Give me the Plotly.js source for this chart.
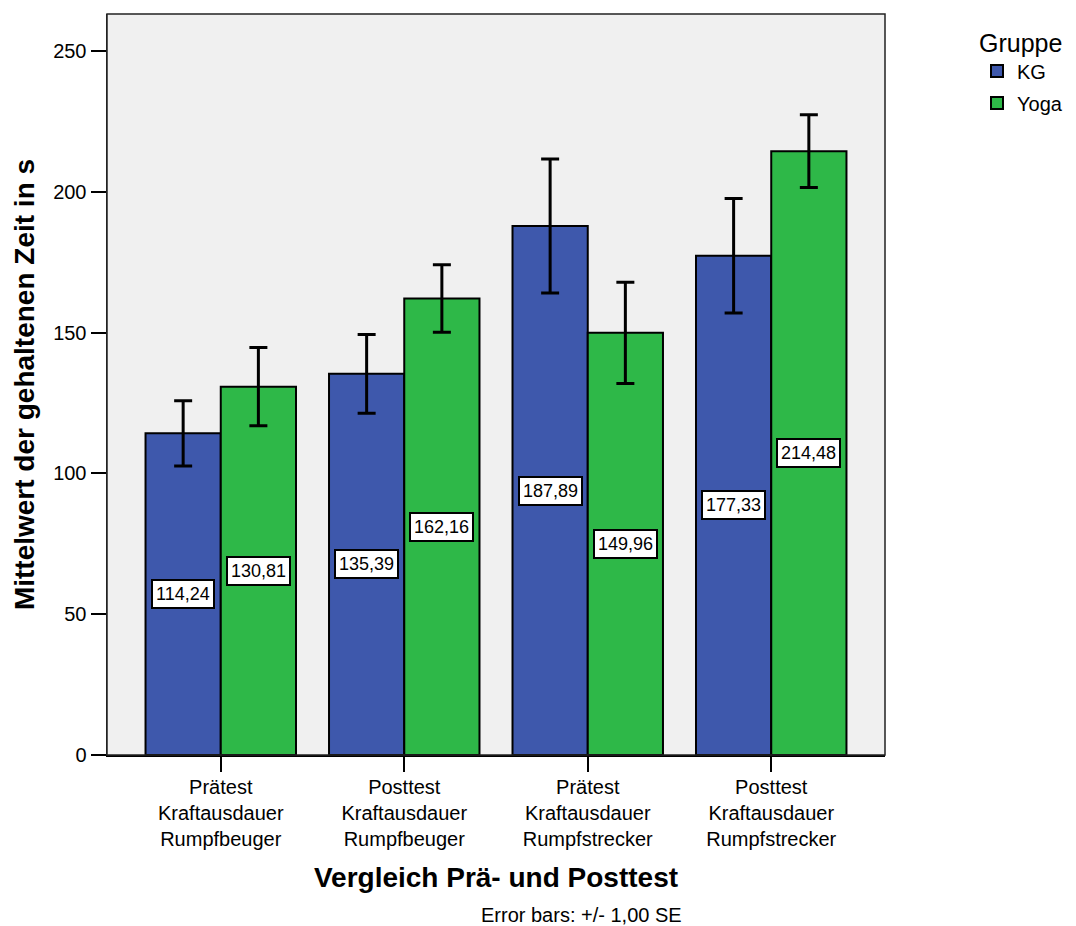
<!DOCTYPE html>
<html>
<head>
<meta charset="utf-8">
<script src="https://cdn.plot.ly/plotly-3.0.1.min.js"></script>
<style>html,body{margin:0;padding:0;background:#fff;}</style>
</head>
<body>
<div id="chart" style="width:1076px;height:926px;"></div>
<script>
// ---- data ----
const categories = [
  "Prätest<br>Kraftausdauer<br>Rumpfbeuger",
  "Posttest<br>Kraftausdauer<br>Rumpfbeuger",
  "Prätest<br>Kraftausdauer<br>Rumpfstrecker",
  "Posttest<br>Kraftausdauer<br>Rumpfstrecker"
];
const groupNames = ["KG", "Yoga"];
const kgMeans   = [114.24, 135.39, 187.89, 177.33];
const yogaMeans = [130.81, 162.16, 149.96, 214.48];
const kgSE      = [11.6, 14.0, 23.8, 20.3];
const yogaSE    = [13.9, 12.0, 18.0, 12.9];
const yTicks    = [0, 50, 100, 150, 200, 250];

// ---- styles ----
const colors = ["#3E58AC", "#2EB848"];
const font = "Liberation Sans, Arial, sans-serif";

function barTrace(name, y, se, color) {
  return {
    type: "bar", name: name, x: categories, y: y,
    marker: {color: color, line: {color: "#000", width: 2}},
    error_y: {type: "data", array: se, visible: true, color: "#000", thickness: 3, width: 9},
    hoverinfo: "y"
  };
}

const traces = [
  barTrace(groupNames[0], kgMeans, kgSE, colors[0]),
  barTrace(groupNames[1], yogaMeans, yogaSE, colors[1])
];
traces.forEach((t, i) => { t.legendgroup = "g" + i; });

const fmt = v => v.toFixed(2).replace(".", ",");
const annotations = [];
[kgMeans, yogaMeans].forEach((arr, gi) => {
  arr.forEach((v, ci) => {
    annotations.push({
      x: ci + (gi === 0 ? -0.205 : 0.205), y: v / 2, xref: "x", yref: "y",
      text: fmt(v), showarrow: false,
      bgcolor: "#fff", bordercolor: "#000", borderwidth: 2, borderpad: 3,
      font: {family: font, size: 18, color: "#000"}
    });
  });
});
annotations.push({
  xref: "paper", yref: "paper", x: 0.6105, y: -0.216, xanchor: "center", yanchor: "middle",
  text: "Error bars: +/- 1,00 SE", showarrow: false,
  font: {family: font, size: 20, color: "#000"}
});

const layout = {
  width: 1076, height: 926, autosize: false,
  margin: {l: 107, r: 191, t: 14, b: 171},
  paper_bgcolor: "#fff", plot_bgcolor: "#F0F0F0",
  font: {family: font, color: "#000", size: 20},
  barmode: "group", bargap: 0.18, bargroupgap: 0,
  xaxis: {
    type: "category", range: [-0.62, 3.62],
    ticks: "outside", ticklen: 15, tickwidth: 2, tickcolor: "#000",
    ticklabelstandoff: -2,
    showline: true, linecolor: "#000", linewidth: 2,
    showgrid: false, zeroline: false,
    tickfont: {family: font, size: 20, color: "#000"},
    title: {text: "<b>Vergleich Prä- und Posttest</b>", font: {family: font, size: 28, color: "#000"}, standoff: 18}
  },
  yaxis: {
    range: [0, 263.2], tickvals: yTicks,
    ticks: "outside", ticklen: 15, tickwidth: 2, tickcolor: "#000",
    showline: true, linecolor: "#222", linewidth: 1.5,
    showgrid: false, zeroline: false,
    tickfont: {family: font, size: 20, color: "#000"},
    title: {text: "<b>Mittelwert der gehaltenen Zeit in s</b>", font: {family: font, size: 28, color: "#000"}, standoff: 10}
  },
  shapes: [{
    type: "rect", xref: "paper", yref: "paper", x0: 0, x1: 1, y0: 0, y1: 1,
    line: {color: "#222", width: 1.5}, fillcolor: "rgba(0,0,0,0)", layer: "above"
  }],
  legend: {
    xref: "container", yref: "container",
    x: 977 / 1076, xanchor: "left", y: 1 - 19 / 926, yanchor: "top",
    title: {text: "Gruppe", font: {family: font, size: 25, color: "#000"}},
    font: {family: font, size: 20, color: "#000"},
    traceorder: "grouped", tracegroupgap: 3,
    bgcolor: "rgba(0,0,0,0)"
  },
  annotations: annotations
};

Plotly.newPlot("chart", traces, layout, {displayModeBar: false, staticPlot: true});
</script>
</body>
</html>
